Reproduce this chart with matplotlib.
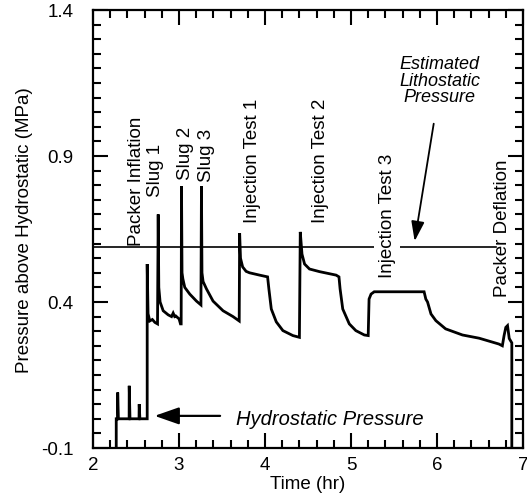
import matplotlib
matplotlib.use("Agg")
import matplotlib.pyplot as plt
from matplotlib.ticker import MultipleLocator

plt.rcParams['font.family'] = ['Liberation Sans', 'DejaVu Sans']
plt.rcParams['axes.unicode_minus'] = False

# pressure record (hr, MPa above hydrostatic)
temps = [2.27, 2.27, 2.285, 2.287, 2.295, 2.42, 2.421, 2.43, 2.535, 2.537, 2.545,
         2.63, 2.63, 2.64, 2.66, 2.69, 2.72, 2.75,
         2.758, 2.765, 2.78, 2.816, 2.874, 2.913, 2.932, 2.95, 2.963, 3.001, 3.017, 3.025,
         3.029, 3.035, 3.045, 3.067, 3.125, 3.203, 3.255,
         3.261, 3.267, 3.28, 3.319, 3.396, 3.512, 3.628, 3.70,
         3.705, 3.715, 3.74, 3.78, 3.82, 3.937, 4.03, 4.045, 4.073, 4.131, 4.208, 4.324, 4.40,
         4.41, 4.43, 4.46, 4.517, 4.633, 4.827, 4.86, 4.873, 4.904, 4.98, 5.056, 5.155, 5.20,
         5.21, 5.233, 5.27, 5.85, 5.87, 5.89, 5.93, 5.987, 6.10, 6.296, 6.49, 6.72, 6.76,
         6.78, 6.80, 6.82, 6.84, 6.87, 6.87]
pression = [-0.1, 0.0, 0.0, 0.09, 0.0, 0.0, 0.113, 0.0, 0.0, 0.05, 0.0,
            0.0, 0.53, 0.36, 0.335, 0.34, 0.33, 0.325,
            0.70, 0.45, 0.40, 0.37, 0.356, 0.35, 0.362, 0.35, 0.352, 0.342, 0.325, 0.325,
            0.797, 0.50, 0.479, 0.45, 0.427, 0.403, 0.39,
            0.797, 0.50, 0.47, 0.445, 0.403, 0.37, 0.35, 0.335,
            0.636, 0.55, 0.52, 0.505, 0.50, 0.492, 0.486, 0.445, 0.376, 0.332, 0.302, 0.285, 0.279,
            0.64, 0.564, 0.53, 0.513, 0.504, 0.492, 0.486, 0.445, 0.376, 0.325, 0.302, 0.287, 0.285,
            0.41, 0.427, 0.435, 0.435, 0.41, 0.40, 0.359, 0.336, 0.308, 0.287, 0.276, 0.256, 0.25,
            0.285, 0.313, 0.319, 0.275, 0.26, -0.1]

# estimated lithostatic pressure
litho_t = [2.0, 6.69]
litho_p = [0.59, 0.59]

# event labels: (texte, temps, bas du texte)
evenements = ["Packer Inflation", "Slug 1", "Slug 2", "Slug 3",
              "Injection Test 1", "Injection Test 2", "Injection Test 3", "Packer Deflation"]
evt_x = [2.51, 2.73, 3.07, 3.32, 3.86, 4.645, 5.42, 6.76]
evt_y = [0.595, 0.763, 0.821, 0.814, 0.674, 0.674, 0.486, 0.42]

fig = plt.figure(figsize=(5.27, 5.02), dpi=100)
ax = fig.add_axes([0.1765, 0.1056, 0.8159, 0.8725])

ax.plot(temps, pression, color='k', lw=2.0, solid_joinstyle='miter')
ax.plot(litho_t, litho_p, color='k', lw=1.2)

for txt, x, y in zip(evenements, evt_x, evt_y):
    bb = None
    if txt == "Injection Test 3":
        bb = dict(facecolor='white', edgecolor='none', pad=3)
    ax.text(x, y, txt, rotation=90, ha='center', va='bottom', fontsize=13.5, bbox=bb)

# fleches
ax.annotate('', xy=(2.684, 0.01), xytext=(3.51, 0.01),
            arrowprops=dict(arrowstyle='-|>,head_length=1.0,head_width=0.35',
                            mutation_scale=15, color='k', lw=1.6))
ax.text(3.66, 0.0, "Hydrostatic Pressure", style='italic', fontsize=14.5, va='center', ha='left')

ax.annotate('', xy=(5.735, 0.599), xytext=(5.967, 1.02),
            arrowprops=dict(arrowstyle='-|>,head_length=1.2,head_width=0.4',
                            mutation_scale=10, color='k', lw=1.3))
ax.text(6.03, 1.16, "Estimated\nLithostatic\nPressure", style='italic', fontsize=13,
        ha='center', va='center', linespacing=0.95)

ax.set_xlim(2, 7)
ax.set_ylim(-0.1, 1.4)
ax.xaxis.set_major_locator(MultipleLocator(1))
ax.xaxis.set_minor_locator(MultipleLocator(0.2))
ax.set_yticks([-0.1, 0.4, 0.9, 1.4])
ax.yaxis.set_minor_locator(MultipleLocator(0.05))
ax.tick_params(which='both', direction='in', top=True, right=True, width=1.5, labelsize=13.5)
ax.tick_params(which='major', length=11)
ax.tick_params(which='minor', length=6)
ax.tick_params(axis='x', pad=6)
ax.tick_params(axis='y', pad=14)
for s in ax.spines.values():
    s.set_linewidth(1.6)

ax.set_xlabel("Time (hr)", fontsize=13.5, labelpad=1)
ax.set_ylabel("Pressure above Hydrostatic (MPa)", fontsize=13.5, labelpad=6)

fig.savefig("out.png", dpi=100)
